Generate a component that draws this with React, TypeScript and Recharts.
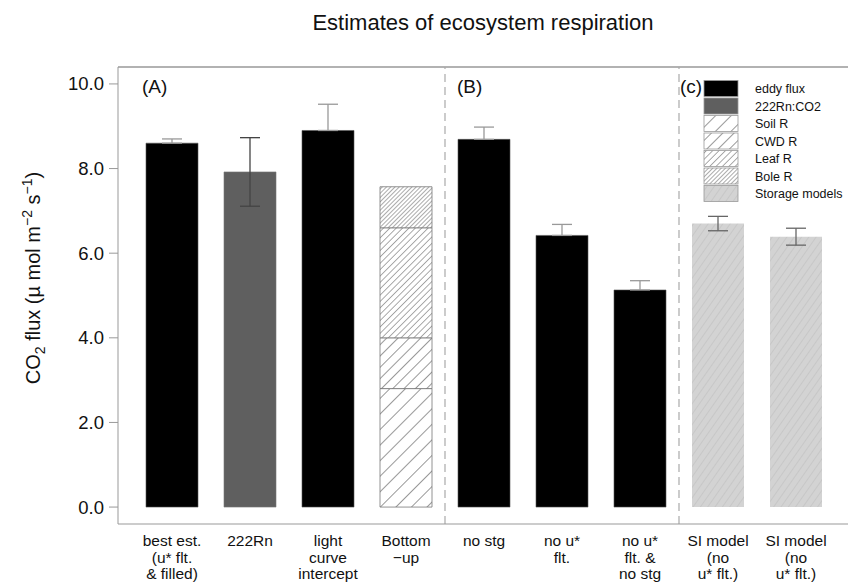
import React from "react";
import { BarChart, Bar, XAxis, YAxis, ErrorBar, ReferenceLine, Legend } from "recharts";

// categories and their (multi-line) tick labels
const categories = ["best", "rn", "light", "bottomup", "nostg", "nou", "nounostg", "si1", "si2"];
const tickLabels: string[][] = [
  ["best est.", "(u* flt.", "& filled)"],
  ["222Rn"],
  ["light", "curve", "intercept"],
  ["Bottom", "\u2212up"],
  ["no stg"],
  ["no u*", "flt."],
  ["no u*", "flt. &", "no stg"],
  ["SI model", "(no", "u* flt.)"],
  ["SI model", "(no", "u* flt.)"],
];

// CO2 flux values (µmol m-2 s-1)
const eddyFlux = [8.6, null, 8.9, null, 8.69, 6.42, 5.13, null, null];
const eddyErr = [0.1, null, 0.62, null, 0.29, 0.26, 0.22, null, null];
const radonFlux = [null, 7.92, null, null, null, null, null, null, null];
const radonErr = [null, 0.81, null, null, null, null, null, null, null];
const soilR = [null, null, null, 2.8, null, null, null, null, null];
const cwdR = [null, null, null, 1.2, null, null, null, null, null];
const leafR = [null, null, null, 2.6, null, null, null, null, null];
const boleR = [null, null, null, 0.97, null, null, null, null, null];
const storageModels = [null, null, null, null, null, null, null, 6.7, 6.39];
const storageErr = [null, null, null, null, null, null, null, 0.17, 0.2];

const yTicks = [0, 2, 4, 6, 8, 10];

const legendItems = [
  { label: "eddy flux", fill: "#000000" },
  { label: "222Rn:CO2", fill: "#5f5f5f" },
  { label: "Soil R", fill: "url(#pat-soil)" },
  { label: "CWD R", fill: "url(#pat-cwd)" },
  { label: "Leaf R", fill: "url(#pat-leaf)" },
  { label: "Bole R", fill: "url(#pat-bole)" },
  { label: "Storage models", fill: "url(#pat-storage)" },
];

const FONT = '"Liberation Sans", Arial, Helvetica, sans-serif';

const data = categories.map((id, i) => ({
  id,
  eddy: eddyFlux[i],
  // bars hide the lower whisker, so only the upper half is shown
  eddyErr: eddyErr[i] != null ? [0, eddyErr[i]] : undefined,
  radon: radonFlux[i],
  radonErr: radonErr[i] ?? undefined,
  soil: soilR[i],
  cwd: cwdR[i],
  leaf: leafR[i],
  bole: boleR[i],
  storage: storageModels[i],
  storageErr: storageErr[i] ?? undefined,
}));

const XTick = (props: any) => {
  const { x, y, payload } = props;
  const lines = tickLabels[categories.indexOf(payload.value)] ?? [];
  return (
    <text x={x} y={y} textAnchor="middle" fontSize={15.5} fill="#111" fontFamily={FONT}>
      {lines.map((l, i) => (
        <tspan key={i} x={x} y={y + 22 + i * 16.5}>
          {l}
        </tspan>
      ))}
    </text>
  );
};

const panelLabel = (text: string, dx: number) => (props: any) => {
  const vb = props.viewBox ?? { x: 0, y: 0 };
  return (
    <text x={vb.x + dx} y={vb.y + 26} fontSize={19} fill="#111" fontFamily={FONT}>
      {text}
    </text>
  );
};

const hatch = (id: string, gap: number, angle: number, bg: string, color: string, sw: number) => (
  <pattern
    id={id}
    patternUnits="userSpaceOnUse"
    width={gap}
    height={gap}
    patternTransform={`rotate(${angle})`}
  >
    <rect width={gap} height={gap} fill={bg} />
    <line x1={0} y1={0} x2={0} y2={gap} stroke={color} strokeWidth={sw} />
  </pattern>
);

const LegendBox = () => (
  <svg width={150} height={130} style={{ display: "block" }}>
    {legendItems.map((it, i) => (
      <g key={it.label} transform={`translate(0, ${i * 17.5})`}>
        <rect x={4} y={0.5} width={34} height={16} fill={it.fill} stroke="#999" strokeWidth={0.8} />
        <text x={55} y={13} fontSize={12.5} fill="#111" fontFamily={FONT}>
          {it.label}
        </text>
      </g>
    ))}
  </svg>
);

export default function App() {
  return (
    <div style={{ position: "absolute", left: 0, top: 0, width: 848, height: 585, background: "#fff", fontFamily: FONT }}>
      <BarChart
        width={848}
        height={585}
        data={data}
        margin={{ top: 67, right: 0, bottom: 0, left: 0 }}
        style={{ fontFamily: FONT }}
      >
        <defs>
          {hatch("pat-soil", 11, 45, "#fff", "#333", 1)}
          {hatch("pat-cwd", 8, 45, "#fff", "#333", 1)}
          {hatch("pat-leaf", 4.5, 45, "#fff", "#444", 0.9)}
          {hatch("pat-bole", 3, 45, "#fff", "#444", 0.9)}
          {hatch("pat-storage", 6, 35, "#d3d3d3", "#b5b5b5", 0.8)}
        </defs>
        <XAxis
          dataKey="id"
          height={61}
          interval={0}
          tickSize={0}
          tickMargin={0}
          tickLine={false}
          axisLine={{ stroke: "#999" }}
          padding={{ left: 15, right: 13 }}
          tick={<XTick />}
        />
        <YAxis
          width={118}
          type="number"
          domain={[-0.4, 10.4]}
          allowDataOverflow
          ticks={yTicks}
          tickFormatter={(v: number) => v.toFixed(1)}
          tickSize={9}
          tickMargin={5}
          axisLine={{ stroke: "#999" }}
          tickLine={{ stroke: "#999" }}
          tick={{ fill: "#111", fontSize: 18.5 }}
        />
        <ReferenceLine y={10.4} stroke="#999" strokeWidth={1.5} />
        <ReferenceLine x="best" position="start" stroke="none" label={panelLabel("(A)", 9)} />
        <ReferenceLine
          x="bottomup"
          position="end"
          stroke="#aaa"
          strokeWidth={1.2}
          strokeDasharray="8 5"
          label={panelLabel("(B)", 12)}
        />
        <ReferenceLine
          x="nounostg"
          position="end"
          stroke="#aaa"
          strokeWidth={1.2}
          strokeDasharray="8 5"
          label={panelLabel("(c)", 1)}
        />
        <Bar dataKey="eddy" stackId="s" barSize={52} fill="#000" stroke="#555" strokeWidth={0.6} isAnimationActive={false}>
          <ErrorBar dataKey="eddyErr" width={10} stroke="#999" strokeWidth={1.3} />
        </Bar>
        <Bar dataKey="radon" stackId="s" barSize={52} fill="#5f5f5f" stroke="#777" strokeWidth={0.6} isAnimationActive={false}>
          <ErrorBar dataKey="radonErr" width={10} stroke="#444" strokeWidth={1.3} />
        </Bar>
        <Bar dataKey="soil" stackId="s" barSize={52} fill="url(#pat-soil)" stroke="#777" strokeWidth={0.8} isAnimationActive={false} />
        <Bar dataKey="cwd" stackId="s" barSize={52} fill="url(#pat-cwd)" stroke="#777" strokeWidth={0.8} isAnimationActive={false} />
        <Bar dataKey="leaf" stackId="s" barSize={52} fill="url(#pat-leaf)" stroke="#777" strokeWidth={0.8} isAnimationActive={false} />
        <Bar dataKey="bole" stackId="s" barSize={52} fill="url(#pat-bole)" stroke="#777" strokeWidth={0.8} isAnimationActive={false} />
        <Bar dataKey="storage" stackId="s" barSize={52} fill="url(#pat-storage)" isAnimationActive={false}>
          <ErrorBar dataKey="storageErr" width={10} stroke="#666" strokeWidth={1.3} />
        </Bar>
        <Legend
          layout="horizontal"
          align="center"
          verticalAlign="middle"
          content={<LegendBox />}
          wrapperStyle={{ position: "absolute", left: 700, top: 80, width: 150, height: 130 }}
        />
      </BarChart>
      <svg width={848} height={585} style={{ position: "absolute", left: 0, top: 0, pointerEvents: "none" }}>
        <text x={483} y={30} textAnchor="middle" fontSize={22} fill="#111" fontFamily={FONT}>
          Estimates of ecosystem respiration
        </text>
        <text
          x={40}
          y={278}
          textAnchor="middle"
          fontSize={20}
          fill="#111"
          fontFamily={FONT}
          transform="rotate(-90, 40, 278)"
        >
          CO<tspan dy={5} fontSize={14}>2</tspan>
          <tspan dy={-5}> flux (µ mol m</tspan>
          <tspan dy={-8} fontSize={14}>{"\u22122"}</tspan>
          <tspan dy={8}> s</tspan>
          <tspan dy={-8} fontSize={14}>{"\u22121"}</tspan>
          <tspan dy={8}>)</tspan>
        </text>
      </svg>
    </div>
  );
}
